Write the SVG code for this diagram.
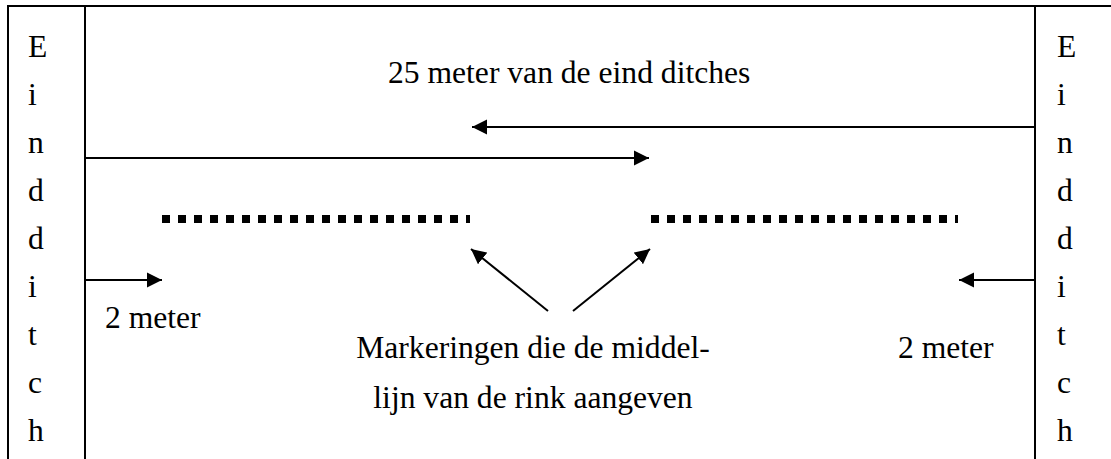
<svg xmlns="http://www.w3.org/2000/svg" width="1111" height="459" viewBox="0 0 1111 459">
<style>
.t{font-family:"Liberation Serif","Times New Roman",serif;font-size:31.6px;fill:#000}
.frame{stroke:#000;stroke-width:2;fill:none}
.c{stroke:#000;stroke-width:2;fill:none}
.dots{stroke:#000;stroke-width:8;stroke-dasharray:8 8;fill:none}
</style>
<defs>
<marker id="ah" markerUnits="userSpaceOnUse" markerWidth="16" markerHeight="16" viewBox="0 0 16 16" refX="15" refY="8" orient="auto">
<path d="M0,0.5 L15,8 L0,15.5 Z" fill="#000"/>
</marker>
</defs>
<rect width="1111" height="459" fill="#fff"/>
<g id="frame">
<line class="frame" x1="7" y1="6" x2="1111" y2="6"/>
<line class="frame" x1="8" y1="5" x2="8" y2="459"/>
<line class="frame" x1="85" y1="5" x2="85" y2="459"/>
<line class="frame" x1="1035" y1="5" x2="1035" y2="459"/>
</g>
<g id="left-end-ditch">
<text class="t" x="28" y="57">E</text>
<text class="t" x="28" y="105">i</text>
<text class="t" x="28" y="153">n</text>
<text class="t" x="28" y="201">d</text>
<text class="t" x="28" y="249">d</text>
<text class="t" x="28" y="297">i</text>
<text class="t" x="28" y="345">t</text>
<text class="t" x="28" y="393">c</text>
<text class="t" x="28" y="441">h</text>
</g>
<g id="right-end-ditch">
<text class="t" x="1057" y="57">E</text>
<text class="t" x="1057" y="105">i</text>
<text class="t" x="1057" y="153">n</text>
<text class="t" x="1057" y="201">d</text>
<text class="t" x="1057" y="249">d</text>
<text class="t" x="1057" y="297">i</text>
<text class="t" x="1057" y="345">t</text>
<text class="t" x="1057" y="393">c</text>
<text class="t" x="1057" y="441">h</text>
</g>
<g id="label-25m">
<text class="t" x="388" y="83">25 meter van de eind ditches</text>
</g>
<g id="label-2m-left">
<text class="t" x="105" y="328">2 meter</text>
</g>
<g id="label-2m-right">
<text class="t" x="898" y="358">2 meter</text>
</g>
<g id="label-markings">
<text class="t" x="533" y="358" text-anchor="middle">Markeringen die de middel-</text>
<text class="t" x="533" y="408" text-anchor="middle">lijn van de rink aangeven</text>
</g>
<g id="markings-left">
<line class="dots" x1="162" y1="219" x2="470" y2="219"/>
</g>
<g id="markings-right">
<line class="dots" x1="651" y1="219" x2="958" y2="219"/>
</g>
<g id="connectors">
<line class="c" x1="1035" y1="127" x2="472" y2="127" marker-end="url(#ah)"/>
<line class="c" x1="85" y1="158" x2="649" y2="158" marker-end="url(#ah)"/>
<line class="c" x1="85" y1="280" x2="162" y2="280" marker-end="url(#ah)"/>
<line class="c" x1="1035" y1="280" x2="959" y2="280" marker-end="url(#ah)"/>
<line class="c" x1="548" y1="311" x2="471" y2="249" marker-end="url(#ah)"/>
<line class="c" x1="573" y1="311" x2="650" y2="249" marker-end="url(#ah)"/>
</g>
</svg>
